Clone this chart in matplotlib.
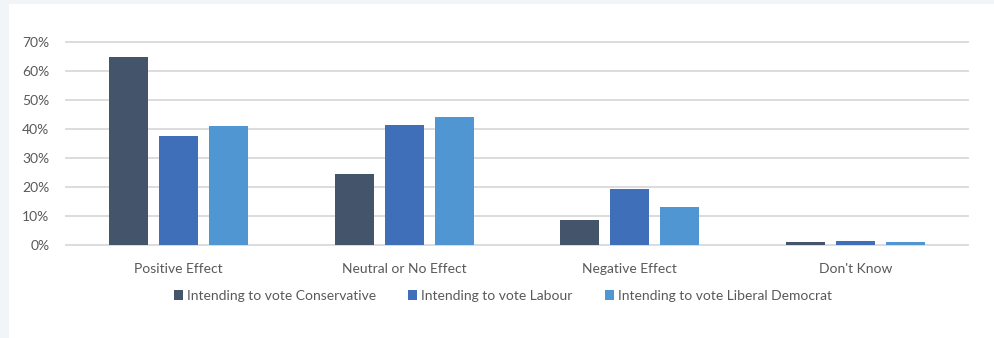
import numpy as np
import matplotlib
matplotlib.use('Agg')
import matplotlib.pyplot as plt
from matplotlib.patches import Rectangle

# ---- data ----
categories = ['Positive Effect', 'Neutral or No Effect', 'Negative Effect', "Don't Know"]
conservative = [65.0, 24.6, 8.7, 1.0]
labour = [37.6, 41.4, 19.3, 1.4]
lib_dem = [41.1, 44.2, 13.2, 1.0]
series_names = ['Intending to vote Conservative',
                'Intending to vote Labour',
                'Intending to vote Liberal Democrat']
y_ticks = [0, 10, 20, 30, 40, 50, 60, 70]

COLORS = ['#44546a', '#3f6fb8', '#5096d3']
TEXT = '#595959'

plt.rcParams['font.family'] = ['Lato', 'DejaVu Sans']

W, H = 994, 338
fig = plt.figure(figsize=(W / 100, H / 100), dpi=100)
fig.patch.set_facecolor('#f2f5f8')

# white card behind the chart
fig.patches.append(Rectangle((9 / W, 0), 1 - 9 / W, 1 - 4 / H,
                             transform=fig.transFigure, facecolor='white',
                             edgecolor='none', zorder=-5))

ax = fig.add_axes([66 / W, 1 - 245 / H, (968 - 66) / W, (245 - 42) / H])
ax.set_facecolor('none')
ax.set_zorder(2)

x = np.arange(len(categories))
bw = 39 / 225.5
step = 50 / 225.5
for i, (vals, name) in enumerate(zip([conservative, labour, lib_dem], series_names)):
    ax.bar(x + (i - 1) * step, vals, width=bw, color=COLORS[i], label=name, zorder=3)

ax.set_xlim(-0.5, len(categories) - 0.5)
ax.set_ylim(0, 70)
ax.set_yticks(y_ticks)
ax.set_yticklabels([f'{v}%' for v in y_ticks])
ax.set_xticks(x)
ax.set_xticklabels(categories)

for v in y_ticks:
    ax.axhline(v, color='#d9d9d9', linewidth=1.3, zorder=1, clip_on=False)

for s in ax.spines.values():
    s.set_visible(False)
ax.tick_params(axis='both', length=0, colors=TEXT, labelsize=10)
ax.tick_params(axis='y', pad=12)
ax.tick_params(axis='x', pad=13)

leg = fig.legend(loc='center', bbox_to_anchor=(503 / W, 1 - 296 / H), ncol=3,
                 frameon=False, fontsize=10, handlelength=0.65, handleheight=0.65,
                 handletextpad=0.3, columnspacing=2.3)
for t in leg.get_texts():
    t.set_color(TEXT)

fig.savefig('out.png', dpi=100)
